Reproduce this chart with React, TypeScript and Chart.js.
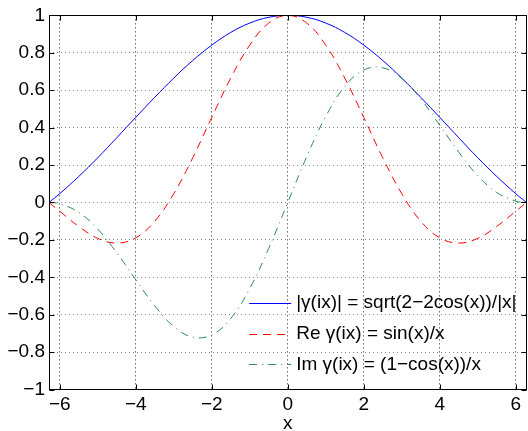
import React, { useEffect, useRef } from 'react';
import { Chart, registerables } from 'chart.js';

Chart.register(...registerables);

// ---- data ----
const xValues = [
  -6.2832, -6, -5.5, -5, -4.5, -4, -3.5, -3, -2.5, -2, -1.5, -1, -0.5, 0,
  0.5, 1, 1.5, 2, 2.5, 3, 3.5, 4, 4.5, 5, 5.5, 6, 6.2832,
];
const absValues = [
  0, 0.047, 0.139, 0.239, 0.346, 0.455, 0.562, 0.665, 0.759, 0.841, 0.909, 0.959, 0.99, 1,
  0.99, 0.959, 0.909, 0.841, 0.759, 0.665, 0.562, 0.455, 0.346, 0.239, 0.139, 0.047, 0,
];
const reValues = [
  0, -0.047, -0.128, -0.192, -0.217, -0.189, -0.1, 0.047, 0.239, 0.455, 0.665, 0.841, 0.959, 1,
  0.959, 0.841, 0.665, 0.455, 0.239, 0.047, -0.1, -0.189, -0.217, -0.192, -0.128, -0.047, 0,
];
const imValues = [
  0, -0.007, -0.053, -0.143, -0.269, -0.413, -0.553, -0.663, -0.72, -0.708, -0.62, -0.46, -0.245, 0,
  0.245, 0.46, 0.62, 0.708, 0.72, 0.663, 0.553, 0.413, 0.269, 0.143, 0.053, 0.007, 0,
];
const seriesLabels = [
  '|\u03B3(ix)| = sqrt(2\u22122cos(x))/|x|',
  'Re \u03B3(ix) = sin(x)/x',
  'Im \u03B3(ix) = (1\u2212cos(x))/x',
];
const xTickValues = [-6, -4, -2, 0, 2, 4, 6];
const yTickValues = [-1, -0.8, -0.6, -0.4, -0.2, 0, 0.2, 0.4, 0.6, 0.8, 1];
const xMin = -6.2832;
const xMax = 6.2832;
const xTitle = 'x';

const FONT = '"Liberation Sans", Arial, Helvetica, sans-serif';
const FS = 19;
const W = 528;
const H = 431;

const fmt = (v: number) => String(Math.round(v * 10) / 10).replace('-', '\u2212');

const boxPlugin = {
  id: 'matlabBox',
  afterDatasetsDraw(chart: any) {
    const { ctx, chartArea: a, scales } = chart;
    ctx.save();
    ctx.setLineDash([]);
    ctx.strokeStyle = '#000';
    ctx.lineWidth = 1;
    const tl = 5;
    const L = Math.round(a.left) + 0.5;
    const R = Math.round(a.right) - 0.5;
    const T = Math.round(a.top) + 0.5;
    const B = Math.round(a.bottom) - 0.5;
    ctx.beginPath();
    xTickValues.forEach((v) => {
      const px = Math.round(scales.x.getPixelForValue(v)) + 0.5;
      ctx.moveTo(px, B);
      ctx.lineTo(px, B - tl);
      ctx.moveTo(px, T);
      ctx.lineTo(px, T + tl);
    });
    yTickValues.forEach((v) => {
      const py = Math.round(scales.y.getPixelForValue(v)) + 0.5;
      ctx.moveTo(L, py);
      ctx.lineTo(L + tl, py);
      ctx.moveTo(R, py);
      ctx.lineTo(R - tl, py);
    });
    ctx.stroke();
    ctx.strokeRect(L, T, R - L, B - T);

    // legend inside the axes, lower right
    ctx.font = FS + 'px ' + FONT;
    ctx.textBaseline = 'middle';
    ctx.textAlign = 'left';
    const widths = chart.data.datasets.map((d: any) => ctx.measureText(d.label).width);
    const maxW = Math.max(...widths);
    const textX = a.right - 10 - maxW;
    const rowH = 30.8;
    const lastY = a.bottom - 25.2;
    chart.data.datasets.forEach((d: any, i: number) => {
      const y = lastY - (chart.data.datasets.length - 1 - i) * rowH;
      ctx.save();
      ctx.strokeStyle = d.borderColor;
      ctx.lineWidth = d.borderWidth;
      ctx.setLineDash(d.borderDash || []);
      ctx.beginPath();
      ctx.moveTo(textX - 47, Math.round(y) + 0.5);
      ctx.lineTo(textX - 5, Math.round(y) + 0.5);
      ctx.stroke();
      ctx.restore();
      ctx.fillStyle = '#000';
      ctx.fillText(d.label, textX, y);
    });
    ctx.restore();
  },
};

export default function App() {
  const ref = useRef<HTMLCanvasElement | null>(null);

  useEffect(() => {
    if (!ref.current) return;
    const mk = (vals: number[]) => xValues.map((x, i) => ({ x, y: vals[i] }));
    const chart = new Chart(ref.current, {
      type: 'line',
      data: {
        datasets: [
          {
            label: seriesLabels[0],
            data: mk(absValues),
            borderColor: '#0000ff',
            borderWidth: 1,
            pointRadius: 0,
            tension: 0.4,
            fill: false,
            order: 3,
          },
          {
            label: seriesLabels[1],
            data: mk(reValues),
            borderColor: '#ff0000',
            borderWidth: 1,
            borderDash: [8, 6],
            pointRadius: 0,
            tension: 0.4,
            fill: false,
            order: 2,
          },
          {
            label: seriesLabels[2],
            data: mk(imValues),
            borderColor: '#2e8b57',
            borderWidth: 1,
            borderDash: [8, 5, 1, 5],
            pointRadius: 0,
            tension: 0.4,
            fill: false,
            order: 1,
          },
        ],
      },
      options: {
        animation: false,
        responsive: false,
        devicePixelRatio: 1,
        layout: { padding: { top: 12, right: 1.5, left: 0, bottom: 0 } },
        plugins: { legend: { display: false }, tooltip: { enabled: false } },
        scales: {
          x: {
            type: 'linear',
            min: xMin,
            max: xMax,
            afterFit: (s: any) => {
              s.height = 41.5;
            },
            afterBuildTicks: (s: any) => {
              s.ticks = xTickValues.map((v) => ({ value: v }));
            },
            ticks: {
              autoSkip: false,
              maxRotation: 0,
              padding: 3.5,
              color: '#000',
              font: { family: FONT, size: FS },
              callback: (v: any) => fmt(Number(v)),
            },
            grid: { color: '#222', lineWidth: 1, drawTicks: false },
            border: { display: false, dash: [1, 3] },
            title: {
              display: true,
              text: xTitle,
              color: '#000',
              font: { family: FONT, size: FS, lineHeight: 1 },
              padding: { top: 0, bottom: -2 },
            },
          },
          y: {
            type: 'linear',
            min: -1,
            max: 1,
            afterFit: (s: any) => {
              s.width = 49;
            },
            afterBuildTicks: (s: any) => {
              s.ticks = yTickValues.map((v) => ({ value: v }));
            },
            ticks: {
              autoSkip: false,
              padding: 4,
              color: '#000',
              font: { family: FONT, size: FS },
              callback: (v: any) => fmt(Number(v)),
            },
            grid: {
              color: (c: any) =>
                c.tick && Math.abs(Math.abs(c.tick.value) - 1) < 1e-9 ? 'rgba(0,0,0,0)' : '#888',
              lineWidth: 1,
              drawTicks: false,
            },
            border: { display: false, dash: [1, 3] },
          },
        },
      },
      plugins: [boxPlugin],
    });
    return () => chart.destroy();
  }, []);

  return (
    <div style={{ position: 'absolute', left: 0, top: 0, width: W, height: H, background: '#fff' }}>
      <canvas ref={ref} width={W} height={H} style={{ display: 'block', width: W, height: H }} />
    </div>
  );
}
